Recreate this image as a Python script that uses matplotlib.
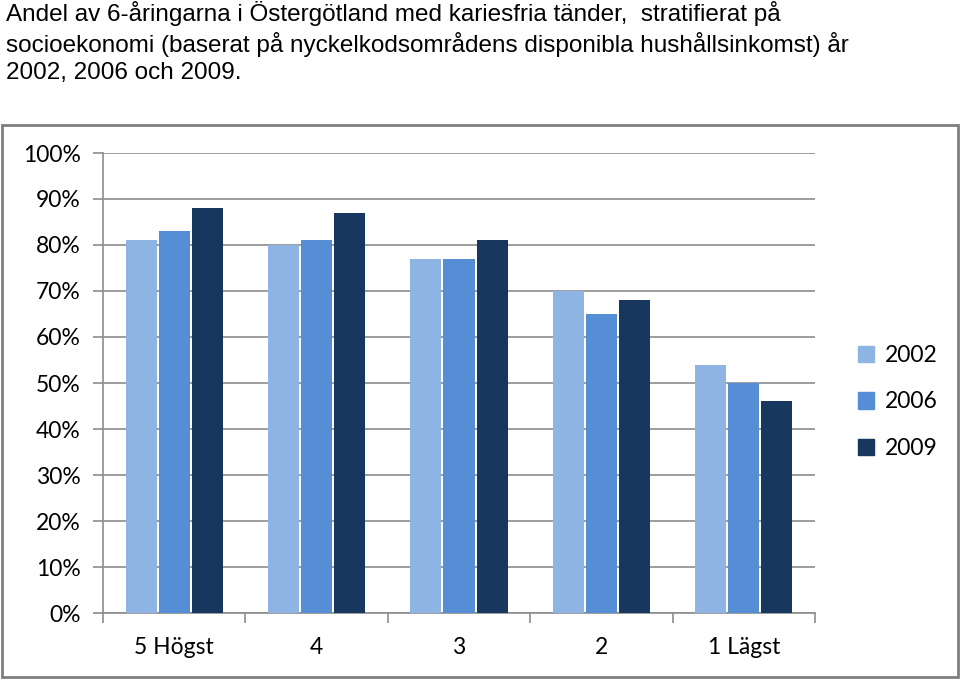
import matplotlib.pyplot as plt
import numpy as np
from matplotlib.patches import Rectangle, Patch

# Data (%)
groups = ["5 Högst", "4", "3", "2", "1 Lägst"]
years = ["2002", "2006", "2009"]
v2002 = [81, 80, 77, 70, 54]
v2006 = [83, 81, 77, 65, 50]
v2009 = [88, 87, 81, 68, 46]
colors = ["#8EB4E3", "#558ED5", "#17375E"]

title = ("Andel av 6-åringarna i Östergötland med kariesfria tänder,  stratifierat på\n"
         "socioekonomi (baserat på nyckelkodsområdens disponibla hushållsinkomst) år\n"
         "2002, 2006 och 2009.")

fig = plt.figure(figsize=(9.6, 6.8), dpi=100)
fig.text(0.006, 0.999, title, ha="left", va="top", fontsize=17.5,
         family="Liberation Sans", linespacing=1.3)

# grey chart frame
fig.patches.append(Rectangle((2 / 960, 3 / 680), 956 / 960, 552 / 680,
                             transform=fig.transFigure, fill=False,
                             edgecolor="#7f7f7f", linewidth=2))

ax = fig.add_axes([103 / 960, 67 / 680, 712 / 960, 460 / 680])
x = np.arange(len(groups))
w = 0.218
step = 0.232
for i, (vals, c, yr) in enumerate(zip([v2002, v2006, v2009], colors, years)):
    ax.bar(x + (i - 1) * step, vals, width=w, color=c, label=yr, zorder=3)

ax.set_xlim(-0.5, len(groups) - 0.5)
ax.set_ylim(0, 100)
ax.set_yticks(np.arange(0, 101, 10))
ax.set_yticklabels([f"{t}%" for t in range(0, 101, 10)])
ax.yaxis.grid(True, color="#8c8c8c", linewidth=1.2, zorder=0)
ax.set_xticks(x)
ax.set_xticklabels(groups)
ax.set_xticks(np.arange(-0.5, len(groups), 1), minor=True)
ax.tick_params(axis="x", which="major", length=0, pad=17, labelsize=16.5)
ax.tick_params(axis="x", which="minor", length=7, color="#8c8c8c", width=1.2)
ax.tick_params(axis="y", length=7, color="#8c8c8c", width=1.2, pad=9, labelsize=16.5)
for lbl in ax.get_xticklabels() + ax.get_yticklabels():
    lbl.set_family("Lato")
for s in ["top", "right"]:
    ax.spines[s].set_visible(False)
for s in ["left", "bottom"]:
    ax.spines[s].set_color("#8c8c8c")
    ax.spines[s].set_linewidth(1.2)

handles = [Patch(color=c) for c in colors]
fig.legend(handles, years, loc="center left", bbox_to_anchor=(837 / 960, 278 / 680),
           frameon=False, prop={"family": "Lato", "size": 16.5}, handlelength=0.7,
           handleheight=0.7, handletextpad=0.5, labelspacing=1.1)

fig.savefig("out.png", dpi=100)
